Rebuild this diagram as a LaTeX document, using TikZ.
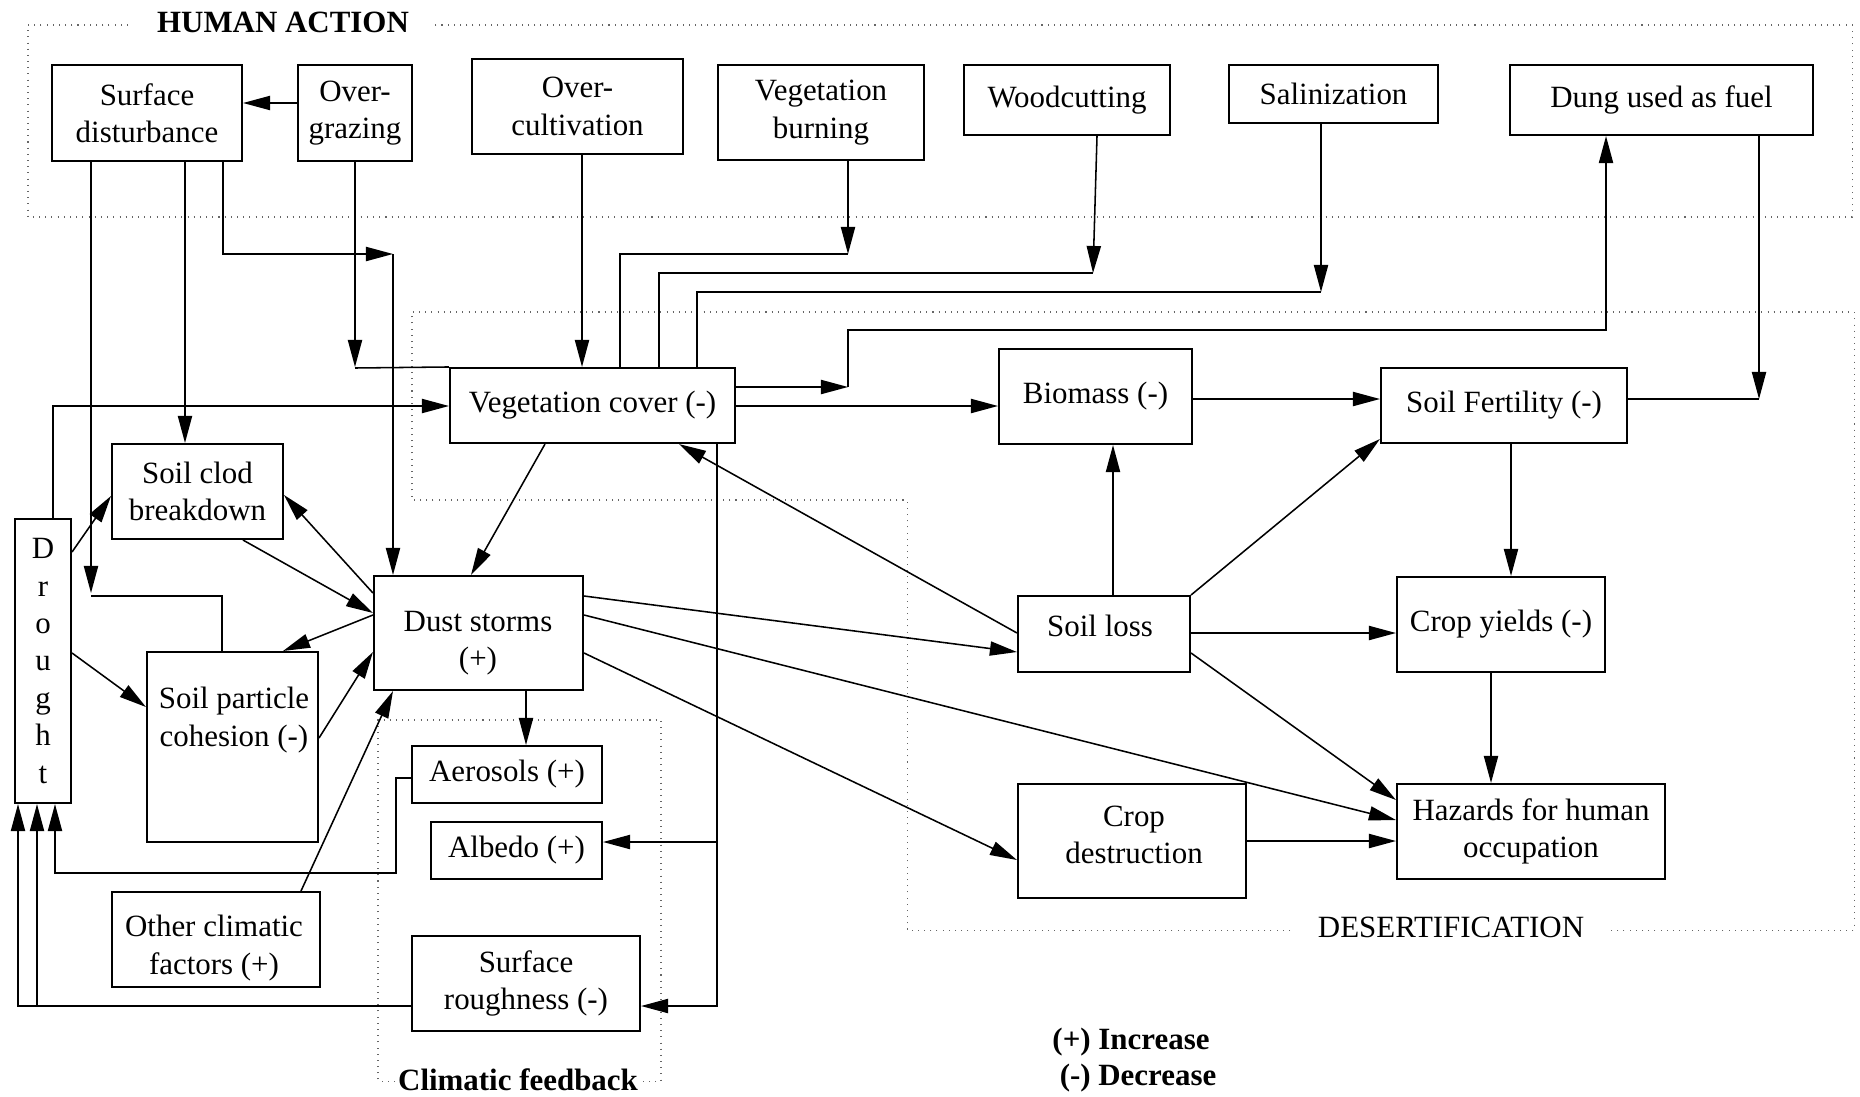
\documentclass[tikz,border=0pt]{standalone}
\usepackage{fontspec}
\setmainfont{Liberation Serif}
\usetikzlibrary{arrows.meta}

\begin{document}
\begin{tikzpicture}[x=0.388pt, y=-0.388pt,
  font=\fontsize{12}{14.5}\selectfont,
  >={Triangle[length=10.5pt, width=5.5pt]},
  box/.style={draw, line width=0.8pt, inner sep=0pt, align=center},
  boxarea/.style args={#1/#2/#3/#4}{minimum width={(#3-#1)*0.388pt},
    minimum height={(#4-#2)*0.388pt}, at={({(#1+#3)/2},{(#2+#4)/2})}},
  txt/.style={inner sep=0pt, align=center},
  boldtxt/.style={txt, font=\fontsize{12}{14.5}\selectfont\bfseries},
  link/.style={line width=0.6pt},
  frame/.style={dotted, line width=0.4pt, black!60}]
\useasboundingbox (0,0) rectangle (1860,1096);

% frames
\draw[frame] (128,25) -| (28,217) -| (1852,25) -- (434,25);
\node[boldtxt] (human) at (283,22) {HUMAN ACTION};
\draw[frame] (1290,930) -| (907,500) -| (412,312) -| (1854,930) -- (1608,930);
\node[txt] (desert) at (1451,927) {DESERTIFICATION};
\draw[frame] (395,1081) -| (378,720) -| (661,1081) -- (641,1081);
\node[boldtxt] (climfb) at (518,1080) {Climatic feedback};

% human action
\node[box, boxarea=52/65/242/161] (sd) {Surface\\disturbance};
\node[box, boxarea=298/65/412/161] (og) {Over-\\grazing};
\node[box, boxarea=472/59/683/154] (oc) {Over-\\cultivation};
\node[box, boxarea=718/65/924/160] (vb) {Vegetation\\burning};
\node[box, boxarea=964/65/1170/135] (wc) {Woodcutting};
\node[box, boxarea=1229/65/1438/123] (sal) {Salinization};
\node[box, boxarea=1510/65/1813/135] (dung) {Dung used as fuel};

% middle
\node[box, boxarea=450/368/735/443] (veg) {Vegetation cover (-)};
\node[box, boxarea=999/349/1192/444] (bio) {Biomass (-)};
\node[box, boxarea=1381/368/1627/443] (fert) {Soil Fertility (-)};
\node[box, boxarea=112/444/283/539] (clod) {Soil clod\\breakdown};
\node[box, boxarea=15/519/71/803] (drought) {D\\r\\o\\u\\g\\h\\t};
\node[box, boxarea=374/576/583/690] (dust) {};
\node[txt] (dusttxt) at (478,643) {Dust storms\\(+)};
\node[box, boxarea=147/652/318/842] (cohes) {};
\node[txt] (cohestxt) at (234,720) {Soil particle\\cohesion (-)};
\node[box, boxarea=1018/596/1190/672] (loss) {};
\node[txt] (losstxt) at (1100,626) {Soil loss};
\node[box, boxarea=1397/577/1605/672] (yields) {Crop yields (-)};
\node[box, boxarea=412/746/602/803] (aero) {Aerosols (+)};
\node[box, boxarea=431/822/602/879] (albedo) {Albedo (+)};
\node[box, boxarea=112/892/320/987] (other) {};
\node[txt] (othertxt) at (214,948) {Other climatic\\factors (+)};
\node[box, boxarea=412/936/640/1031] (rough) {Surface\\roughness (-)};
\node[box, boxarea=1018/784/1246/898] (cropd) {};
\node[txt] (cropdtxt) at (1134,835) {Crop\\destruction};
\node[box, boxarea=1397/784/1665/879] (haz) {Hazards for human\\occupation};

% legend
\node[boldtxt] (plus) at (1131,1042) {(+) Increase};
\node[boldtxt] (minus) at (1138,1078) {(-) Decrease};

% human action links
\draw[link, ->] (og.west |- 0,103) -- (sd.east |- 0,103);
\draw[link, ->] (sd.south -| 185,0) -- (clod.north -| 185,0);
\draw[link, ->] (sd.south -| 91,0) -- (91,593);
\draw[link] (91,596) -| (cohes.north -| 222,0);
\coordinate (ds) at (393,254);
\draw[link, ->] (sd.south -| 223,0) |- (ds);
\draw[link, ->] (ds) -- (dust.north -| 393,0);
\draw[link, ->] (og.south -| 355,0) -- (355,367);
\draw[link] (355,368) -- (veg.north west);
\draw[link, ->] (oc.south -| 582,0) -- (veg.north -| 582,0);
\draw[link, ->] (vb.south -| 848,0) -- (848,254);
\draw[link] (veg.north -| 620,0) |- (848,254);
\draw[link, ->] (wc.south -| 1097,0) -- (1093,273);
\draw[link] (veg.north -| 659,0) |- (1093,273);
\draw[link, ->] (sal.south -| 1321,0) -- (1321,292);
\draw[link] (veg.north -| 697,0) |- (1321,292);
\draw[link, ->] (veg.east |- 0,387) -- (848,387);
\draw[link, ->] (848,387) |- (1606,330) -- (dung.south -| 1606,0);
\draw[link, ->] (dung.south -| 1759,0) -- (1759,399);
\draw[link] (fert.east |- 0,399) -- (1759,399);

% desertification links
\draw[link, ->] (veg.east |- 0,406) -- (bio.west |- 0,406);
\draw[link, ->] (bio.east |- 0,399) -- (fert.west |- 0,399);
\draw[link, ->] (loss.north -| 1113,0) -- (bio.south -| 1113,0);
\draw[link, ->] (loss.west |- 0,633) -- (veg.south -| 679,0);
\draw[link, ->] (loss.north east) -- (fert.west |- 0,439);
\draw[link, ->] (loss.east |- 0,633) -- (yields.west |- 0,633);
\draw[link, ->] (loss.east |- 0,653) -- (haz.west |- 0,800);
\draw[link, ->] (fert.south -| 1511,0) -- (yields.north -| 1511,0);
\draw[link, ->] (yields.south -| 1491,0) -- (haz.north -| 1491,0);
\draw[link, ->] (cropd.east |- 0,841) -- (haz.west |- 0,841);
\draw[link, ->] (dust.east |- 0,596) -- (loss.west |- 0,652);
\draw[link, ->] (dust.east |- 0,615) -- (haz.west |- 0,820);
\draw[link, ->] (dust.east |- 0,653) -- (cropd.west |- 0,860);

% drought and soil links
\draw[link, ->] (drought.north -| 53,0) |- (veg.west |- 0,406);
\draw[link, ->] (drought.east |- 0,552) -- (clod.west |- 0,496);
\draw[link, ->] (drought.east |- 0,653) -- (cohes.west |- 0,707);
\draw[link, ->] (clod.south -| 243,0) -- (dust.west |- 0,613);
\draw[link, ->] (dust.west |- 0,593) -- (clod.east |- 0,495);
\draw[link, ->] (dust.west |- 0,615) -- (cohes.north -| 283,0);
\draw[link, ->] (cohes.east |- 0,738) -- (dust.west |- 0,652);
\draw[link, ->] (other.north -| 301,0) -- (dust.south -| 393,0);
\draw[link, ->] (veg.south -| 545,0) -- (dust.north -| 471,0);

% climatic feedback links
\draw[link, ->] (dust.south -| 526,0) -- (aero.north -| 526,0);
\draw[link, ->] (aero.west |- 0,778) -| (396,873) -| (drought.south -| 55,0);
\draw[link, ->] (veg.south -| 717,0) |- (rough.east |- 0,1006);
\draw[link, ->] (717,842) -- (albedo.east |- 0,842);
\draw[link, ->] (rough.west |- 0,1006) -| (drought.south -| 18,0);
\draw[link, ->] (37,1006) -- (drought.south -| 37,0);
\end{tikzpicture}
\end{document}
